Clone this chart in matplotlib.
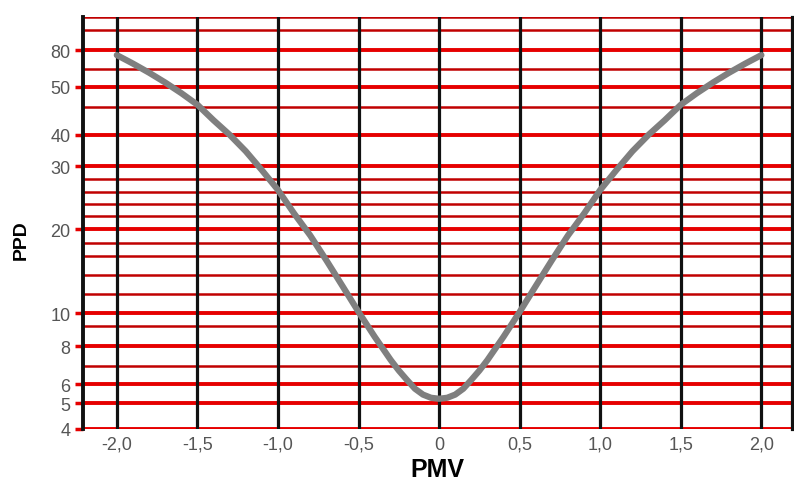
import matplotlib.pyplot as plt
import numpy as np

plt.rcParams['font.family'] = ['Liberation Sans', 'DejaVu Sans']

# curve values
pmv = [-2.0, -1.9, -1.8, -1.7, -1.6, -1.5, -1.4, -1.3, -1.2, -1.1, -1.0,
       -0.9, -0.8, -0.7, -0.6, -0.5, -0.4, -0.3, -0.25, -0.2, -0.15, -0.1,
       -0.05, 0.0, 0.05,
       0.1, 0.15, 0.2, 0.25, 0.3, 0.4, 0.5, 0.6, 0.7, 0.8, 0.9, 1.0,
       1.1, 1.2, 1.3, 1.4, 1.5, 1.6, 1.7, 1.8, 1.9, 2.0]
ppd = [77, 72, 67, 62, 57, 52, 46, 41, 36, 31, 26.5,
       22, 18.5, 15.2, 12.4, 10.1, 8.3, 6.9, 6.35, 5.9, 5.5, 5.25,
       5.12, 5.08, 5.12,
       5.25, 5.5, 5.9, 6.35, 6.9, 8.3, 10.1, 12.4, 15.2, 18.5, 22, 26.5,
       31, 36, 41, 46, 52, 57, 62, 67, 72, 77]

# horizontal rulings (labelled ones and the plain ones between them)
major_y = [4, 4.9, 5.7, 7.7, 10, 19.4, 32, 41, 60, 80]
major_labels = ['4', '5', '6', '8', '10', '20', '30', '40', '50', '80']
minor_y = [6.6, 9, 11.6, 13.5, 15.7, 17.4, 21.5, 23.7, 26, 29, 51, 69, 94, 104]

x_ticks = [-2.0, -1.5, -1.0, -0.5, 0, 0.5, 1.0, 1.5, 2.0]
x_labels = ['-2,0', '-1,5', '-1,0', '-0,5', '0', '0,5', '1,0', '1,5', '2,0']

fig = plt.figure(figsize=(7.94, 4.89), dpi=100)
ax = fig.add_axes([0.1045, 0.1207, 0.893, 0.8423])
ax.set_yscale('log')
ax.set_xlim(-2.21, 2.19)
ax.set_ylim(4, 104)

for y in minor_y:
    ax.axhline(y, color='#c00000', lw=1.8, zorder=1)
for y in major_y:
    ax.axhline(y, color='#e60000', lw=2.8, zorder=1)
for x in x_ticks:
    ax.axvline(x, color='#111111', lw=2.3, zorder=2)

ax.plot(pmv, ppd, color='#7f7f7f', lw=4.5, solid_capstyle='round',
        solid_joinstyle='round', zorder=3)

ax.set_yticks(major_y)
ax.set_yticklabels(major_labels)
ax.yaxis.set_minor_locator(plt.NullLocator())
ax.yaxis.set_minor_formatter(plt.NullFormatter())
ax.tick_params(axis='y', length=6, width=2.5, color='#e60000', labelsize=13,
               labelcolor='#555555', pad=3)
ax.set_xticks(x_ticks)
ax.set_xticklabels(x_labels)
ax.tick_params(axis='x', length=0, labelsize=13, labelcolor='#555555', pad=5)

for side in ['top', 'bottom']:
    ax.spines[side].set_visible(False)
ax.spines['left'].set_color('#111111')
ax.spines['left'].set_linewidth(2.8)
ax.spines['right'].set_color('#111111')
ax.spines['right'].set_linewidth(2.3)

ax.set_xlabel('PMV', fontsize=18, fontweight='bold', labelpad=3)
ax.set_ylabel('PPD', fontsize=14, fontweight='bold')
ax.yaxis.set_label_coords(-0.075, 0.46)

plt.savefig('out.png', dpi=100)
